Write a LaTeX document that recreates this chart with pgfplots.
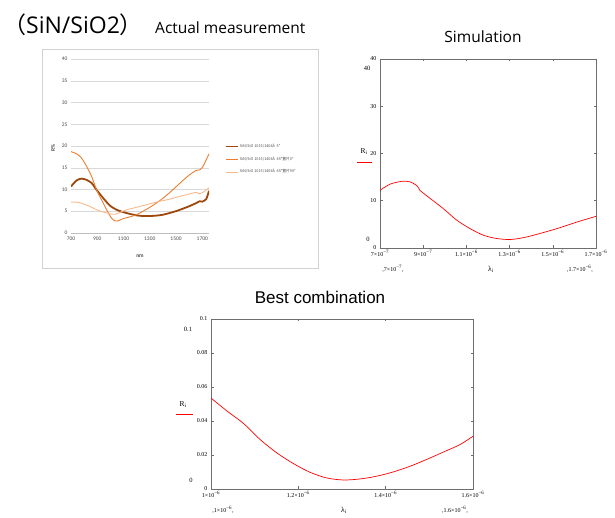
\documentclass[border=0pt]{standalone}
\usepackage{pgfplots}
\pgfplotsset{compat=1.18}
\usepackage{fontspec}
\setmainfont{Liberation Serif}
\newfontfamily\cjk{Noto Sans CJK SC}
\newfontfamily\osans{Open Sans}
\newfontfamily\lsans{Liberation Sans}
\newfontfamily\carl{Carlito}

\definecolor{xlbrown}{RGB}{158,72,14}
\definecolor{xlorange}{RGB}{237,125,49}
\definecolor{xlpeach}{RGB}{246,185,140}
\definecolor{mcred}{RGB}{255,0,0}
\definecolor{mcbox}{RGB}{110,110,110}

\newcommand{\sci}[2]{#1×10\textsuperscript{−#2}}

\begin{document}
\begin{tikzpicture}
\useasboundingbox (0pt,0pt) rectangle (615pt,518pt);

% titles
\node[anchor=west, inner sep=0] at (3pt,493pt) {\cjk\fontsize{23}{26}\selectfont （\osans SiN/SiO2\cjk）};
\node[anchor=west, inner sep=0] at (155pt,490pt) {\osans\fontsize{15.5}{18}\selectfont Actual measurement};
\node[inner sep=0] at (483pt,481pt) {\osans\fontsize{15.5}{18}\selectfont Simulation};
\node[inner sep=0] at (320pt,221pt) {\lsans\fontsize{17}{20}\selectfont Best combination};

% measured chart frame
\draw[gray!35, line width=0.5pt] (42.5pt,250pt) rectangle (318pt,469pt);

\begin{axis}[
    at={(71pt,285pt)}, anchor=south west, scale only axis,
    width=138pt, height=174pt,
    xmin=700, xmax=1751, ymin=0, ymax=40,
    xtick={700,900,...,1700}, ytick={0,5,...,40},
    ymajorgrids, grid style={gray!30, line width=0.4pt},
    axis x line*=bottom, axis y line*=left,
    x axis line style={gray!50, -}, y axis line style={draw=none},
    major tick length=0pt,
    /pgf/number format/assume math mode=true,
    /pgf/number format/1000 sep={},
    tick label style={font=\carl\fontsize{5.5}{6}\selectfont, text=black!70},
    legend style={at={(1.116,0.425)}, anchor=west, draw=none, fill=none,
        font=\cjk\fontsize{3.8}{4.5}\selectfont, row sep=3.6pt,
        text=black!70, inner sep=0pt},
    legend cell align=left,
    legend image code/.code={\draw[#1, line width=0.6pt] (0pt,0pt) -- (12pt,0pt);},
]
\addplot[xlbrown, line width=1.8pt, smooth, tension=0.4] coordinates {
(700,10.7) (743,12.1) (781,12.5) (819,12.2) (857,11.5) (895,9.9) (946,8.0)
(996,6.3) (1047,5.35) (1097,4.8) (1148,4.4) (1199,4.05) (1249,3.9) (1300,3.9)
(1351,4.0) (1401,4.2) (1452,4.6) (1503,5.05) (1553,5.6) (1604,6.2) (1655,6.9)
(1680,7.3) (1700,7.2) (1730,7.8) (1751,9.7)};
\addlegendentry{SiN/SiO 1015/1404Å\ \ 5°}
\addplot[xlorange, line width=0.9pt, smooth, tension=0.4] coordinates {
(700,18.7) (743,18.2) (781,17.2) (819,15.3) (857,13.0) (895,9.9) (933,7.6)
(971,5.35) (1009,3.4) (1034,2.8) (1060,2.8) (1097,3.3) (1148,3.7) (1199,4.2)
(1249,5.0) (1300,5.9) (1351,6.9) (1401,8.0) (1452,9.3) (1503,10.7) (1553,12.1)
(1604,13.4) (1655,14.4) (1680,14.5) (1705,15.3) (1751,18.2)};
\addlegendentry{SiN/SiO 1015/1404Å\ \ 45°置片0°}
\addplot[xlpeach, line width=0.9pt, smooth, tension=0.4] coordinates {
(700,7.1) (743,7.1) (794,6.7) (844,6.1) (895,5.35) (946,4.8) (996,4.4)
(1034,4.3) (1072,4.7) (1123,5.35) (1173,5.7) (1224,6.1) (1275,6.5) (1325,6.9)
(1376,7.3) (1427,7.6) (1477,8.0) (1528,8.4) (1579,8.8) (1629,9.2) (1655,9.3)
(1680,9.0) (1718,9.6) (1751,10.4)};
\addlegendentry{SiN/SiO 1015/1404Å\ \ 45°置片90°}
\end{axis}
\node[font=\carl\bfseries\fontsize{5.5}{6}\selectfont, text=black!70] at (140pt,262pt) {nm};
\node[font=\carl\bfseries\fontsize{5.5}{6}\selectfont, text=black!70, rotate=90] at (53pt,370pt) {R\%};

% simulation
\begin{axis}[
    at={(380pt,270pt)}, anchor=south west, scale only axis,
    width=216pt, height=189pt,
    xmin=700, xmax=1700, ymin=0, ymax=40,
    xtick={700,900,...,1700},
    xticklabels={\sci{7}{7},\sci{9}{7},\sci{1.1}{6},\sci{1.3}{6},\sci{1.5}{6},\sci{1.7}{6}},
    ytick={0,10,...,40},
    axis line style={mcbox, line width=0.6pt},
    tick style={mcbox, line width=0.5pt}, tick align=inside, major tick length=2.5pt,
    /pgf/number format/assume math mode=true,
    tick label style={font=\fontsize{6}{7}\selectfont},
    xticklabel style={yshift=1pt},
]
\addplot[mcred, line width=0.7pt, smooth, tension=0.5] coordinates {
(700,12.2) (746,13.5) (800,14.1) (839,14.0) (873,13.1) (885,12.2) (932,10.5)
(994,8.3) (1055,5.9) (1117,4.1) (1179,2.7) (1241,2.0) (1303,1.8) (1365,2.2)
(1427,2.9) (1519,4.1) (1612,5.5) (1700,6.7)};
\end{axis}
\node[font=\fontsize{6.5}{7}\selectfont] at (367pt,450pt) {40};
\node[font=\fontsize{6.5}{7}\selectfont] at (368pt,279pt) {0};
\node[font=\fontsize{7.5}{8}\selectfont] at (364pt,366pt) {R\textsubscript{i}};
\draw[mcred, line width=0.7pt] (357pt,356pt) -- (372pt,356pt);
\node[font=\fontsize{7.5}{8}\selectfont] at (491pt,249pt) {λ\textsubscript{i}};
\node[font=\fontsize{6}{7}\selectfont] at (393pt,249pt) {,\sci{7}{7},};
\node[font=\fontsize{6}{7}\selectfont] at (580pt,249pt) {,\sci{1.7}{6},};

% best combination
\begin{axis}[
    at={(211pt,29pt)}, anchor=south west, scale only axis,
    width=262pt, height=170pt,
    xmin=1000, xmax=1600, ymin=0, ymax=0.1,
    xtick={1000,1200,1400,1600},
    xticklabels={\sci{1}{6},\sci{1.2}{6},\sci{1.4}{6},\sci{1.6}{6}},
    ytick={0,0.02,0.04,0.06,0.08,0.1},
    yticklabels={0,0.02,0.04,0.06,0.08,0.1},
    axis line style={mcbox, line width=0.6pt},
    tick style={mcbox, line width=0.5pt}, tick align=inside, major tick length=2.5pt,
    /pgf/number format/assume math mode=true,
    tick label style={font=\fontsize{6}{7}\selectfont},
    xticklabel style={yshift=1pt},
]
\addplot[mcred, line width=0.7pt, smooth, tension=0.5] coordinates {
(1000,0.0535) (1036,0.046) (1075,0.0384) (1113,0.029) (1151,0.0212)
(1189,0.0149) (1227,0.0098) (1265,0.0065) (1303,0.0053) (1341,0.0059)
(1379,0.0075) (1417,0.0100) (1455,0.0133) (1493,0.0173) (1531,0.0216)
(1570,0.0261) (1600,0.031)};
\end{axis}
\node[font=\fontsize{6.5}{7}\selectfont] at (188pt,189pt) {0.1};
\node[font=\fontsize{6.5}{7}\selectfont] at (191pt,38pt) {0};
\node[font=\fontsize{7.5}{8}\selectfont] at (183pt,113pt) {R\textsubscript{i}};
\draw[mcred, line width=0.7pt] (176pt,104pt) -- (193pt,104pt);
\node[font=\fontsize{7.5}{8}\selectfont] at (344pt,8pt) {λ\textsubscript{i}};
\node[font=\fontsize{6}{7}\selectfont] at (223pt,8pt) {,\sci{1}{6},};
\node[font=\fontsize{6}{7}\selectfont] at (455pt,8pt) {,\sci{1.6}{6},};
\end{tikzpicture}
\end{document}
